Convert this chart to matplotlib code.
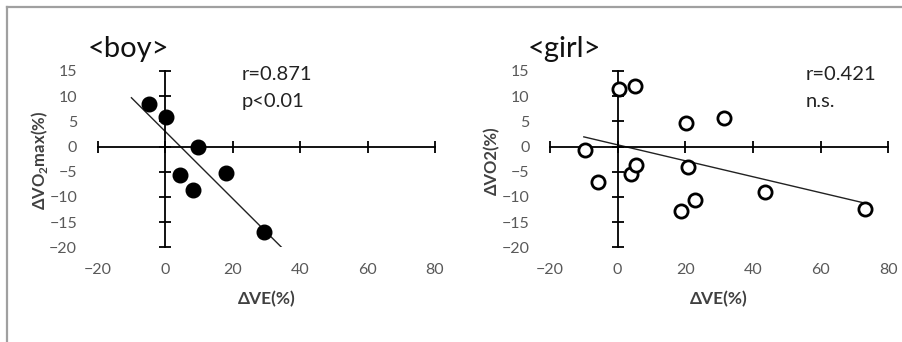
import numpy as np
import matplotlib
matplotlib.use("Agg")
import matplotlib.pyplot as plt
from matplotlib.lines import Line2D

plt.rcParams['font.family'] = ['Lato', 'DejaVu Sans']
plt.rcParams['mathtext.fontset'] = 'custom'
plt.rcParams['mathtext.rm'] = 'Lato'
plt.rcParams['mathtext.bf'] = 'Lato:bold'

# ---- data ----
boy_ve = [-4.7, 0.2, 9.6, 4.5, 8.3, 18.0, 29.2]
boy_vo2 = [8.4, 5.9, -0.1, -5.7, -8.7, -5.2, -16.9]
girl_ve = [-9.8, -5.7, 0.5, 5.1, 3.8, 5.5, 20.2, 31.3, 20.8, 18.8, 22.9, 43.7, 73.0]
girl_vo2 = [-0.7, -7.0, 11.5, 12.1, -5.5, -3.7, 4.6, 5.6, -4.1, -12.7, -10.7, -9.0, -12.4]
boy_fit_range = [-10, 35]
girl_fit_range = [-10, 73]
x_ticks = [-20, 0, 20, 40, 60, 80]
y_ticks = [-20, -15, -10, -5, 0, 5, 10, 15]
boy_title, girl_title = "<boy>", "<girl>"
boy_ylabel, girl_ylabel = r"ΔVO$_\mathbf{2}$max(%)", "ΔVO2(%)"
xlabel = "ΔVE(%)"
boy_stats = ["r=0.871", "p<0.01"]
girl_stats = ["r=0.421", "n.s."]

W, H, DPI = 903, 342, 100
fig = plt.figure(figsize=(W / DPI, H / DPI), dpi=DPI)

def px2pt(p):
    return p * 72.0 / DPI

def make_panel(rect, xs, ys, fit_range, title, title_x, ylabel, stats, stats_x, filled):
    ax = fig.add_axes(rect)
    ax.set_xlim(-20, 80)
    ax.set_ylim(-20, 15)
    for s in ['top', 'right']:
        ax.spines[s].set_visible(False)
    ax.spines['left'].set_position(('data', 0))
    ax.spines['bottom'].set_position(('data', 0))
    for s in ['left', 'bottom']:
        ax.spines[s].set_linewidth(1.3)
    ax.set_xticks(x_ticks)
    ax.set_yticks(y_ticks)
    ticklen = 8
    ax.tick_params(axis='y', direction='inout', length=ticklen, width=1.3,
                   labelsize=11.5, labelcolor='#595959', pad=px2pt(88) - ticklen / 2)
    ax.tick_params(axis='x', direction='inout', length=ticklen, width=1.3,
                   labelsize=11.5, labelcolor='#595959', pad=px2pt(116) - ticklen / 2)
    # trend line
    coef = np.polyfit(xs, ys, 1)
    fx = np.array(fit_range, dtype=float)
    ax.plot(fx, np.polyval(coef, fx), color='#222222', lw=1.0, zorder=2)
    if filled:
        ax.plot(xs, ys, 'o', ms=10.5, mfc='black', mec='black', zorder=3, clip_on=False)
    else:
        ax.plot(xs, ys, 'o', ms=9.5, mfc='white', mec='black', mew=2.0, zorder=3, clip_on=False)
    ax.set_xlabel(xlabel, fontsize=12.5, fontweight='bold', color='#404040')
    ax.xaxis.set_label_coords(0.5, -0.293)
    ax.xaxis.label.set_va('center')
    ax.set_ylabel(ylabel, fontsize=12, fontweight='bold', color='#404040')
    ax.yaxis.set_label_coords(-0.172, 0.49)
    ax.yaxis.label.set_va('center')
    ax.text(stats_x, 15.9, stats[0], fontsize=14.5, va='top', ha='left', color='#222222')
    ax.text(stats_x, 10.7, stats[1], fontsize=14.5, va='top', ha='left', color='#222222')
    fig.text(title_x / W, (H - 57) / H, title, fontsize=21, va='baseline', ha='left',
             color='#111111')
    return ax

make_panel([97.7 / W, 94.7 / H, 337.3 / W, 176.3 / H], boy_ve, boy_vo2, boy_fit_range,
           boy_title, 88, boy_ylabel, boy_stats, 22.6, True)
make_panel([550 / W, 94.7 / H, 338.3 / W, 176.3 / H], girl_ve, girl_vo2, girl_fit_range,
           girl_title, 528, girl_ylabel, girl_stats, 55.5, False)

# outer frame
fig.add_artist(Line2D([7 / W, 7 / W], [0, (H - 6.5) / H], color='#a0a0a0', lw=1.6,
                      transform=fig.transFigure))
fig.add_artist(Line2D([7 / W, 1], [(H - 6.5) / H, (H - 6.5) / H], color='#a0a0a0', lw=1.6,
                      transform=fig.transFigure))

fig.savefig("out.png", dpi=DPI)
